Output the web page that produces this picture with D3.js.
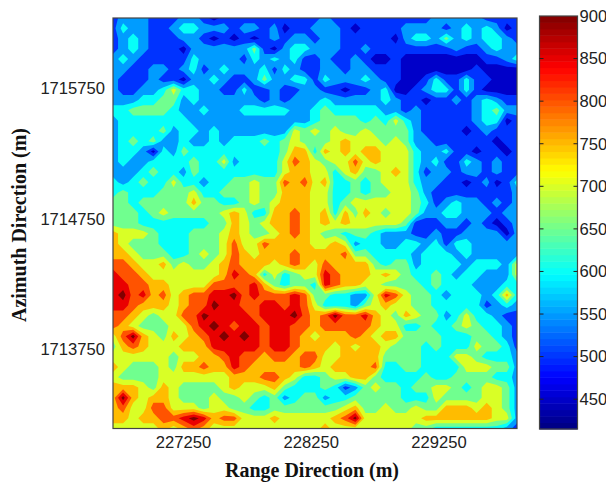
<!DOCTYPE html>
<html>
<head>
<meta charset="utf-8">
<script src="https://cdn.jsdelivr.net/npm/d3@7"></script>
<style>
html,body{margin:0;padding:0;background:#fff;overflow:hidden;}
text{fill:#222;}
.tick text{font-family:"Liberation Sans",sans-serif;font-size:16.6px;}
.title{font-family:"Liberation Serif",serif;font-weight:bold;font-size:20px;fill:#111;}
</style>
</head>
<body>
<div class="canvas"></div>
<script>
//values, one list per azimuth row, north at the top
var row00 = [500,550,550,550,500,500,500,550,550,500,450,500,500,500,500,500,500,500,500,500,500,550,500,500,500,500,500,500,500,500,500,500,550,550,550,550,550,500,500,500,500];
var row01 = [500,600,550,550,500,500,550,600,600,550,550,550,500,550,550,500,550,450,500,500,550,550,550,500,450,500,500,500,500,550,550,550,550,500,550,600,550,600,550,450,500];
var row02 = [500,550,600,550,500,500,500,550,550,500,450,500,450,500,450,500,550,500,550,550,500,550,550,500,500,500,500,500,450,550,600,600,550,650,550,600,550,600,600,550,500];
var row03 = [500,550,600,550,500,500,500,450,550,550,550,550,550,550,650,500,450,550,600,600,550,550,550,500,500,550,500,500,500,500,500,500,500,500,550,500,500,550,600,550,550];
var row04 = [550,600,550,500,500,500,500,500,600,550,550,550,550,500,600,550,600,550,600,500,500,550,500,500,550,500,450,450,500,450,450,450,450,450,450,450,450,500,500,550,600];
var row05 = [550,550,500,500,550,550,500,550,600,500,550,600,550,550,550,600,500,600,550,500,500,550,550,500,550,550,500,500,500,450,450,450,450,450,450,450,500,450,450,450,450];
var row06 = [550,500,500,500,550,500,500,450,550,550,600,550,500,500,550,650,550,550,600,600,500,600,550,550,550,600,550,500,500,450,450,500,600,500,500,600,500,500,450,450,450];
var row07 = [550,500,500,550,550,600,700,600,600,550,550,500,500,600,500,500,550,500,500,550,550,500,500,450,500,500,550,600,450,450,500,550,600,600,500,600,500,450,450,450,450];
var row08 = [550,550,550,600,600,650,650,550,600,550,550,550,550,550,550,500,550,500,550,550,550,600,550,550,550,550,550,600,550,500,500,450,500,500,550,500,550,600,550,500,500];
var row09 = [600,600,650,650,650,650,600,550,550,600,550,550,550,600,600,600,600,600,550,550,600,650,600,600,600,600,600,550,550,500,550,500,500,500,500,500,550,600,650,550,550];
var row10 = [550,600,600,600,600,600,600,600,550,550,550,550,550,550,550,550,550,550,550,550,600,650,650,650,650,600,650,600,700,600,550,500,500,500,500,500,550,600,600,450,500];
var row11 = [550,600,600,600,600,650,550,600,600,550,600,550,550,550,550,550,550,550,700,650,700,650,700,650,650,700,650,650,650,650,550,500,500,500,500,450,500,550,500,500,500];
var row12 = [550,600,650,600,650,550,550,600,550,550,600,550,600,600,600,650,600,650,700,650,650,650,700,750,700,700,700,650,700,650,550,550,500,500,500,500,500,500,450,500,500];
var row13 = [550,600,600,550,450,600,550,650,600,600,600,600,600,600,600,600,600,650,750,750,600,750,700,750,700,750,750,700,700,700,600,550,550,600,500,500,450,500,500,450,500];
var row14 = [550,600,550,550,600,600,600,600,650,600,600,700,550,600,600,600,600,700,800,750,700,650,700,700,800,700,750,700,700,700,600,550,600,500,500,600,550,500,550,500,500];
var row15 = [550,550,550,600,650,600,600,550,650,600,600,600,600,600,600,600,600,700,750,750,700,700,600,700,750,650,650,700,750,700,600,500,550,550,500,550,550,500,550,500,500];
var row16 = [600,550,600,650,600,600,700,600,600,550,600,600,650,650,700,650,650,800,750,800,700,750,600,600,650,600,650,700,700,700,600,550,550,500,500,450,500,550,450,500,600];
var row17 = [600,650,600,600,600,650,650,650,700,600,600,650,650,650,700,650,650,750,750,750,700,700,600,600,650,600,650,650,700,700,650,550,500,500,500,500,500,500,500,500,550];
var row18 = [650,650,600,650,650,650,650,650,750,650,650,600,600,650,700,650,700,750,750,750,700,700,600,650,700,700,700,700,700,700,650,600,500,550,600,550,550,500,550,500,550];
var row19 = [650,650,650,600,650,700,650,650,650,650,650,700,750,700,600,600,750,750,800,750,700,750,600,750,650,750,700,650,700,700,650,550,550,600,600,550,550,550,500,550,550];
var row20 = [650,650,650,600,600,600,600,600,600,600,650,650,750,700,650,700,750,750,800,750,700,750,700,750,700,700,700,700,700,650,500,500,500,550,550,500,550,500,450,500,550];
var row21 = [750,700,700,700,650,600,600,600,650,650,650,700,750,700,650,650,700,750,800,750,700,650,650,600,650,650,600,550,550,550,500,500,550,500,500,550,550,550,550,450,550];
var row22 = [750,700,650,650,650,600,600,600,650,650,650,700,800,700,700,800,750,750,750,750,700,700,750,700,550,600,600,550,550,600,600,550,600,500,600,600,550,550,550,550,550];
var row23 = [750,750,700,650,650,650,600,600,650,700,650,700,800,750,700,750,750,750,800,750,750,750,750,800,650,650,600,600,600,600,550,600,600,600,550,600,550,550,550,550,550];
var row24 = [800,800,750,700,700,750,650,700,650,650,700,750,800,750,750,750,700,750,800,750,700,800,750,750,750,750,650,600,650,650,550,600,600,600,600,550,600,600,600,550,700];
var row25 = [850,800,800,750,700,700,700,700,700,700,700,750,850,800,750,600,700,600,650,700,700,850,800,750,750,750,700,750,700,650,600,600,650,600,550,600,600,550,550,550,700];
var row26 = [850,850,800,800,750,750,700,700,700,700,800,800,800,800,850,750,650,600,650,650,600,850,800,750,750,700,700,650,650,650,650,600,650,600,600,600,550,550,550,600,600];
var row27 = [850,900,800,850,750,800,700,750,800,800,850,850,900,800,850,800,800,800,850,800,650,650,600,600,550,550,700,850,800,700,650,650,600,550,600,600,600,550,600,750,600];
var row28 = [850,850,800,750,750,750,700,750,800,800,900,850,850,800,800,850,850,800,850,800,700,600,600,600,550,650,700,750,700,700,650,650,600,600,600,600,600,500,550,600,550];
var row29 = [800,800,750,700,650,700,700,800,800,900,850,850,850,850,800,850,850,850,900,800,750,800,900,800,800,850,750,700,650,750,700,650,650,550,600,700,600,600,550,500,500];
var row30 = [800,750,700,650,650,650,700,700,800,850,900,850,800,850,850,800,850,850,800,800,750,800,800,800,800,800,750,700,700,600,600,650,600,600,650,700,650,600,600,550,500];
var row31 = [700,800,900,750,700,650,750,700,750,800,850,900,850,900,850,800,850,850,800,750,700,750,750,750,800,750,700,750,750,650,650,650,650,600,600,600,650,650,600,550,500];
var row32 = [650,750,800,750,700,700,700,750,750,750,850,850,850,850,850,800,850,850,800,750,750,750,700,750,700,750,750,700,650,650,650,600,650,600,600,600,700,650,650,600,500];
var row33 = [700,700,700,700,700,700,650,700,700,750,750,800,850,800,800,750,800,800,750,800,800,700,700,750,750,750,750,650,650,650,650,600,600,600,700,700,650,600,600,600,550];
var row34 = [750,700,650,650,650,700,650,750,750,800,750,750,850,800,750,750,750,750,750,800,750,700,750,750,750,750,800,600,600,650,650,600,600,600,600,700,700,700,650,650,550];
var row35 = [700,650,650,650,650,700,700,700,700,700,700,700,750,750,750,800,800,750,700,600,600,650,700,700,750,750,650,600,600,600,600,650,600,600,650,650,650,650,600,600,550];
var row36 = [750,750,750,700,650,750,700,650,650,650,650,700,750,700,700,700,750,650,600,600,600,650,600,500,550,650,700,650,650,600,650,650,700,700,650,600,650,700,700,650,550];
var row37 = [750,900,750,700,750,750,700,650,650,650,700,650,650,700,650,600,650,550,600,650,650,550,600,600,650,650,650,650,650,600,600,600,700,650,650,650,650,700,700,650,550];
var row38 = [750,800,700,700,800,800,700,700,700,650,700,700,650,650,600,600,650,650,650,650,650,650,650,700,750,650,650,700,650,650,700,650,650,750,750,750,700,750,700,650,550];
var row39 = [750,750,700,750,750,800,800,850,900,850,750,800,800,700,700,700,750,700,700,700,700,700,750,800,900,700,700,700,700,700,700,750,750,750,750,750,750,750,700,700,550];
var row40 = [700,700,700,700,700,750,700,750,800,750,700,700,700,700,700,700,700,700,700,700,700,750,700,700,700,700,700,700,700,700,650,650,600,600,600,600,600,600,600,550,500];
var rows = [row00,row01,row02,row03,row04,row05,row06,row07,row08,row09,row10,row11,row12,row13,row14,row15,row16,row17,row18,row19,row20,row21,row22,row23,row24,row25,row26,row27,row28,row29,row30,row31,row32,row33,row34,row35,row36,row37,row38,row39,row40];

var rangeTicks = [227250,228250,229250];
var azimuthTicks = [1713750,1714750,1715750];
var barTicks = [450,500,550,600,650,700,750,800,850,900];
var levels = [475,525,575,625,675,725,775,825,875];

var m = {t:18,r:89,b:53.5,l:113};
var outerWidth = 606, outerHeight = 482;
var w = outerWidth - m.l - m.r,
    h = outerHeight - m.t - m.b;

//matlab jet, t from 0 to 1
function jet(t){
    function c(x){ return Math.round(255*Math.max(0,Math.min(1,x))); }
    return d3.rgb(
        c(Math.min(4*t-1.5,-4*t+4.5)),
        c(Math.min(4*t-0.5,-4*t+3.5)),
        c(Math.min(4*t+0.5,-4*t+2.5))
    ).formatHex();
}
var scaleColor = function(v){ return jet((v-415)/485); };

var svg = d3.select('.canvas')
    .append('svg')
    .attr('width',outerWidth)
    .attr('height',outerHeight)
    .style('display','block');

var plot = svg.append('g')
    .attr('transform','translate(' + m.l + ',' + m.t + ')');

var scaleX = d3.scaleLinear().domain([226702,229865]).range([0,w]);
var scaleY = d3.scaleLinear().domain([1713143,1716289]).range([h,0]);

//grid index to pixel, d3.contours puts sample i at i+0.5
var nx = rows[0].length, ny = rows.length;
var gridX = d3.scaleLinear().domain([0.5,nx-0.5]).range([0,w]);
var gridY = d3.scaleLinear().domain([0.5,ny-0.5]).range([0,h]);

var contours = d3.contours()
    .size([nx,ny])
    .thresholds(levels)(d3.merge(rows));

var path = d3.geoPath().projection(d3.geoTransform({
    point:function(x,y){ this.stream.point(gridX(x),gridY(y)); }
}));

svg.append('clipPath').attr('id','plot-clip')
    .append('rect').attr('width',w).attr('height',h);

var map = plot.append('g').attr('clip-path','url(#plot-clip)');
map.append('rect')
    .attr('width',w)
    .attr('height',h)
    .attr('fill',scaleColor(450));
map.selectAll('.band')
    .data(contours)
    .enter()
    .append('path')
    .attr('class','band')
    .attr('d',path)
    .attr('fill',function(d){ return scaleColor(d.value+25); });

plot.append('rect')
    .attr('width',w)
    .attr('height',h)
    .attr('fill','none')
    .attr('stroke','#444')
    .attr('stroke-width',1.2);

var axisX = d3.axisBottom().scale(scaleX).tickValues(rangeTicks).tickSize(0).tickPadding(8).tickFormat(d3.format('d'));
var axisY = d3.axisLeft().scale(scaleY).tickValues(azimuthTicks).tickSize(0).tickPadding(8).tickFormat(d3.format('d'));
plot.append('g').attr('transform','translate(0,' + h + ')').call(axisX).select('.domain').remove();
plot.append('g').call(axisY).select('.domain').remove();

plot.append('text')
    .attr('class','title')
    .attr('x',312-m.l)
    .attr('y',477-m.t)
    .attr('text-anchor','middle')
    .text('Range Direction (m)');
plot.append('text')
    .attr('class','title')
    .attr('transform','translate(' + (26-m.l) + ',' + (225-m.t) + ') rotate(-90)')
    .attr('text-anchor','middle')
    .text('Azimuth Direction (m)');

//colorbar
var bar = {x:539.5,y:16,w:38,h:413};
var scaleBar = d3.scaleLinear().domain([415,900]).range([bar.y+bar.h,bar.y]);
var barSteps = d3.range(64);
var colorbar = svg.append('g');
colorbar.selectAll('.step')
    .data(barSteps)
    .enter()
    .append('rect')
    .attr('class','step')
    .attr('x',bar.x)
    .attr('width',bar.w)
    .attr('y',function(d){ return scaleBar(415+(d+1)*485/64); })
    .attr('height',bar.h/64+0.5)
    .attr('fill',function(d){ return jet((d+0.5)/64); });
colorbar.append('rect')
    .attr('x',bar.x)
    .attr('y',bar.y)
    .attr('width',bar.w)
    .attr('height',bar.h)
    .attr('fill','none')
    .attr('stroke','#444')
    .attr('stroke-width',1.2);

var axisBar = d3.axisRight().scale(scaleBar).tickValues(barTicks).tickSize(0).tickPadding(2);
colorbar.append('g')
    .attr('transform','translate(' + (bar.x+bar.w) + ',0)')
    .call(axisBar)
    .select('.domain').remove();
colorbar.selectAll('.mark')
    .data(barTicks.slice(0,-1))
    .enter()
    .append('path')
    .attr('class','mark')
    .attr('stroke','#222')
    .attr('fill','none')
    .attr('d',function(d){
        var y = scaleBar(d);
        return 'M' + bar.x + ',' + y + 'h4M' + (bar.x+bar.w) + ',' + y + 'h-4';
    });
</script>
</body>
</html>
